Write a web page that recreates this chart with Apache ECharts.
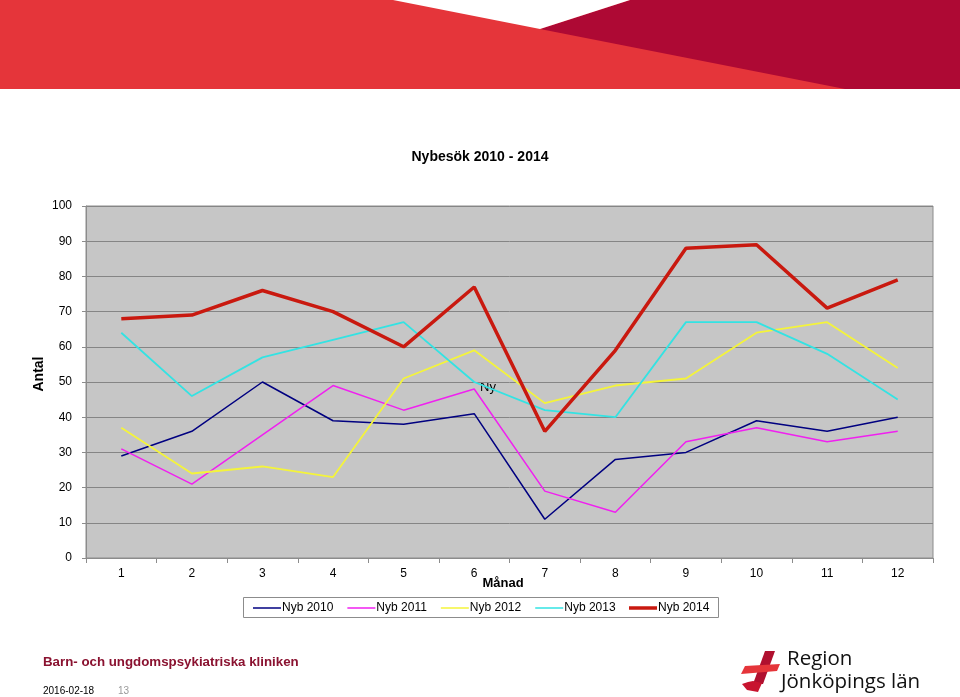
<!DOCTYPE html>
<html>
<head>
<meta charset="utf-8">
<script src="https://cdn.jsdelivr.net/npm/echarts@6/dist/echarts.min.js"></script>
<style>
html,body{margin:0;padding:0;background:#fff;}
#chart{width:960px;height:697px;}
</style>
</head>
<body>
<div id="chart"></div>
<script>
var months = ['1','2','3','4','5','6','7','8','9','10','11','12'];
var nyb2010 = [29, 36, 50, 39, 38, 41, 11, 28, 30, 39, 36, 40];
var nyb2011 = [31, 21, 35, 49, 42, 48, 19, 13, 33, 37, 33, 36];
var nyb2012 = [37, 24, 26, 23, 51, 59, 44, 49, 51, 64, 67, 54];
var nyb2013 = [64, 46, 57, 62, 67, 50, 42, 40, 67, 67, 58, 45];
var nyb2014 = [68, 69, 76, 70, 60, 77, 36, 59, 88, 89, 71, 79];
var seriesNames = ['Nyb 2010','Nyb 2011','Nyb 2012','Nyb 2013','Nyb 2014'];

var chart = echarts.init(document.getElementById('chart'));
var FONT = '"Liberation Sans", Arial, sans-serif';

function mk(name, data, color, width) {
  return {
    name: name, type: 'line', data: data, symbol: 'none',
    lineStyle: {color: color, width: width}, itemStyle: {color: color},
    emphasis: {disabled: true}, animation: false
  };
}

var legendText = {fontSize: 12, color: '#000', fontFamily: FONT, padding: [0,0,0,-4]};

chart.setOption({
  animation: false,
  textStyle: {fontFamily: FONT},
  title: {
    text: 'Nybesök 2010 - 2014', left: 'center', top: 145,
    textStyle: {fontSize: 14, fontWeight: 'bold', color: '#000', fontFamily: FONT}
  },
  grid: {
    left: 86, right: 27, top: 206, bottom: 139, show: true,
    backgroundColor: '#C6C6C6', borderColor: '#8C8C8C', borderWidth: 1
  },
  legend: [
    {
      left: 248, top: 597, orient: 'horizontal',
      data: seriesNames.slice(0, 4), icon: 'rect',
      itemWidth: 28, itemHeight: 1.5, itemGap: 14,
      textStyle: legendText
    },
    {
      left: 624, top: 597,
      data: [seriesNames[4]], icon: 'rect',
      itemWidth: 28, itemHeight: 3.5,
      textStyle: legendText
    }
  ],
  xAxis: {
    type: 'category', data: months, boundaryGap: true,
    axisLine: {lineStyle: {color: '#8C8C8C'}},
    axisTick: {show: true, alignWithLabel: false, length: 5, lineStyle: {color: '#8C8C8C'}},
    axisLabel: {fontSize: 12, color: '#000', margin: 10, fontFamily: FONT}
  },
  yAxis: {
    type: 'value', min: 0, max: 100, interval: 10,
    axisLine: {show: true, lineStyle: {color: '#8C8C8C'}},
    axisTick: {show: true, length: 4, lineStyle: {color: '#8C8C8C'}},
    axisLabel: {fontSize: 12, color: '#000', margin: 14, fontFamily: FONT},
    splitLine: {show: true, lineStyle: {color: '#858585', width: 1}}
  },
  series: [
    mk('Nyb 2010', nyb2010, '#000080', 1.5),
    mk('Nyb 2011', nyb2011, '#F020F0', 1.5),
    mk('Nyb 2012', nyb2012, '#F4F43A', 1.8),
    mk('Nyb 2013', nyb2013, '#33E3E3', 1.8),
    mk('Nyb 2014', nyb2014, '#C9190F', 3.5)
  ],
  graphic: [
    {type: 'rect', shape: {x: 0, y: 0, width: 960, height: 89}, style: {fill: '#E5353A'}, silent: true},
    {type: 'polygon', shape: {points: [[630,0],[960,0],[960,89],[845,89],[540,29]]}, style: {fill: '#AE0934'}, silent: true},
    {type: 'polygon', shape: {points: [[393,0],[630,0],[540,29]]}, style: {fill: '#FFFFFF'}, silent: true},
    {type: 'rect', shape: {x: 243.5, y: 597.5, width: 475, height: 20}, style: {fill: 'none', stroke: '#8C8C8C', lineWidth: 1}, silent: true, z: -1},
    {type: 'text', x: 503, y: 583, style: {text: 'Månad', fill: '#000', font: 'bold 13px ' + FONT, align: 'center', verticalAlign: 'middle'}, silent: true},
    {type: 'text', x: 39, y: 374, rotation: Math.PI / 2, style: {text: 'Antal', fill: '#000', font: 'bold 14px ' + FONT, align: 'center', verticalAlign: 'middle'}, silent: true},
    {type: 'text', left: 480, top: 381, style: {text: 'Ny', fill: '#000', font: '13px ' + FONT}, silent: true},
    {type: 'text', left: 43, top: 656, style: {text: 'Barn- och ungdomspsykiatriska kliniken', fill: '#8A1230', font: 'bold 13.3px ' + FONT}, silent: true},
    {type: 'text', left: 43, top: 686, style: {text: '2016-02-18', fill: '#000', font: '10px ' + FONT}, silent: true},
    {type: 'text', left: 118, top: 686, style: {text: '13', fill: '#999', font: '10px ' + FONT}, silent: true},
    {type: 'polygon', shape: {points: [[765,651],[775,651],[763,684],[753,684]]}, style: {fill: '#B0102F'}, silent: true},
    {type: 'polygon', shape: {points: [[753,681],[762,683],[758,692],[747,690],[742,684],[748,682]]}, style: {fill: '#C8142F'}, silent: true},
    {type: 'polygon', shape: {points: [[745,666],[780,664],[777,671],[741,674]]}, style: {fill: '#E5353A'}, silent: true},
    {type: 'text', left: 787, top: 649, style: {text: 'Region', fill: '#111', font: '20.5px "Open Sans", ' + FONT}, silent: true},
    {type: 'text', left: 781, top: 672, style: {text: 'Jönköpings län', fill: '#111', font: '20.5px "Open Sans", ' + FONT}, silent: true}
  ]
});
</script>
</body>
</html>
